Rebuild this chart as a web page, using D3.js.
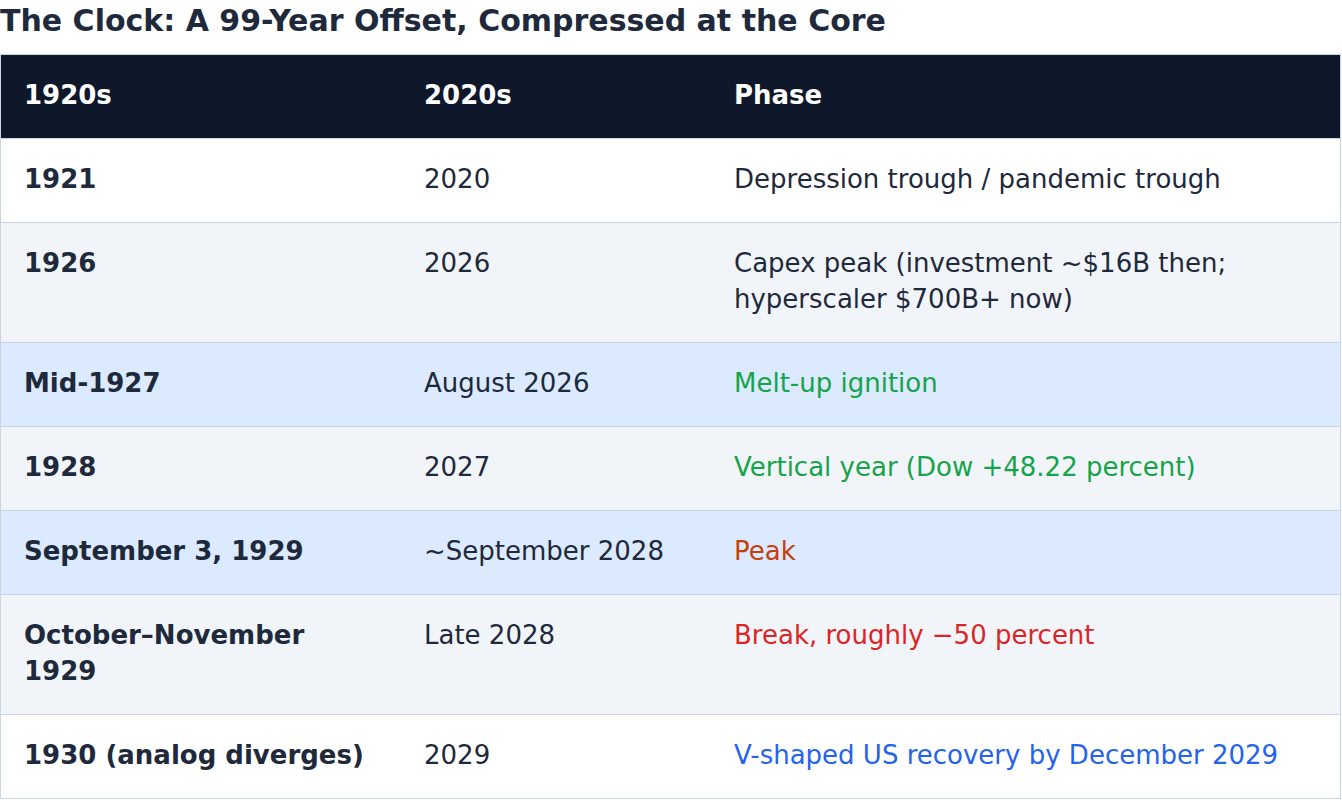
<!DOCTYPE html>
<html>
<head>
<meta charset="utf-8">
<script src="https://cdn.jsdelivr.net/npm/d3@7"></script>
<style>
    html, body {
        margin: 0;
        padding: 0;
        background: #ffffff;
        font-family: "DejaVu Sans", sans-serif;
        color: #1e293b;
    }
    .title {
        font-size: 30px;
        font-weight: bold;
        line-height: 36px;
        height: 51px;
        padding-top: 3px;
        white-space: nowrap;
    }
    .table {
        width: 1341px;
        box-sizing: border-box;
        border: 1px solid #cbd5e1;
    }
    .row {
        display: flex;
        border-bottom: 1px solid #cbd5e1;
    }
    .row:last-child { border-bottom: none; }
    .cell {
        box-sizing: border-box;
        padding: 22px 24px 25px 24px;
        font-size: 26px;
        line-height: 36px;
    }
    .c0 { width: 399px; font-weight: bold; padding-left: 23px; }
    .c1 { width: 310px; }
    .c2 { flex: 1; }
    .head { background: #0f172a; color: #ffffff; }
    .head .cell { font-weight: bold; }
</style>
</head>
<body>
<div class="title" id="title"></div>
<div class="table" id="table"></div>
<script>
// Table content, one entry per row
const titleText = 'The Clock: A 99-Year Offset, Compressed at the Core';
const headers = ['1920s', '2020s', 'Phase'];
const eras1920s = ['1921', '1926', 'Mid-1927', '1928', 'September 3, 1929', 'October\u2013November 1929', '1930 (analog diverges)'];
const eras2020s = ['2020', '2026', 'August 2026', '2027', '~September 2028', 'Late 2028', '2029'];
const phases = [
    'Depression trough / pandemic trough',
    'Capex peak (investment ~$16B then; hyperscaler $700B+ now)',
    'Melt-up ignition',
    'Vertical year (Dow +48.22 percent)',
    'Peak',
    'Break, roughly \u221250 percent',
    'V-shaped US recovery by December 2029'
];
const phaseTones = ['plain', 'plain', 'rise', 'rise', 'top', 'crash', 'recover'];
const rowTones = ['white', 'stripe', 'focus', 'stripe', 'focus', 'stripe', 'white'];

const toneColor = {
    plain: '#1e293b',
    rise: '#16a34a',
    top: '#c2410c',
    crash: '#dc2626',
    recover: '#2563eb'
};
const rowFill = {
    white: '#ffffff',
    stripe: '#f1f5f9',
    focus: '#dbeafe'
};

d3.select('#title').text(titleText);

const table = d3.select('#table');

// Header row
table.append('div')
    .attr('class', 'row head')
    .selectAll('div')
    .data(headers)
    .join('div')
    .attr('class', (d, i) => `cell c${i}`)
    .text(d => d);

// Body rows
const rows = eras1920s.map((d, i) => ({
    cells: [d, eras2020s[i], phases[i]],
    tone: phaseTones[i],
    fill: rowTones[i]
}));

table.selectAll('.body-row')
    .data(rows)
    .join('div')
    .attr('class', 'row body-row')
    .style('background', d => rowFill[d.fill])
    .each(function (row) {
        d3.select(this)
            .selectAll('div')
            .data(row.cells)
            .join('div')
            .attr('class', (d, i) => `cell c${i}`)
            .style('color', (d, i) => i === 2 ? toneColor[row.tone] : null)
            .text(d => d);
    });
</script>
</body>
</html>
